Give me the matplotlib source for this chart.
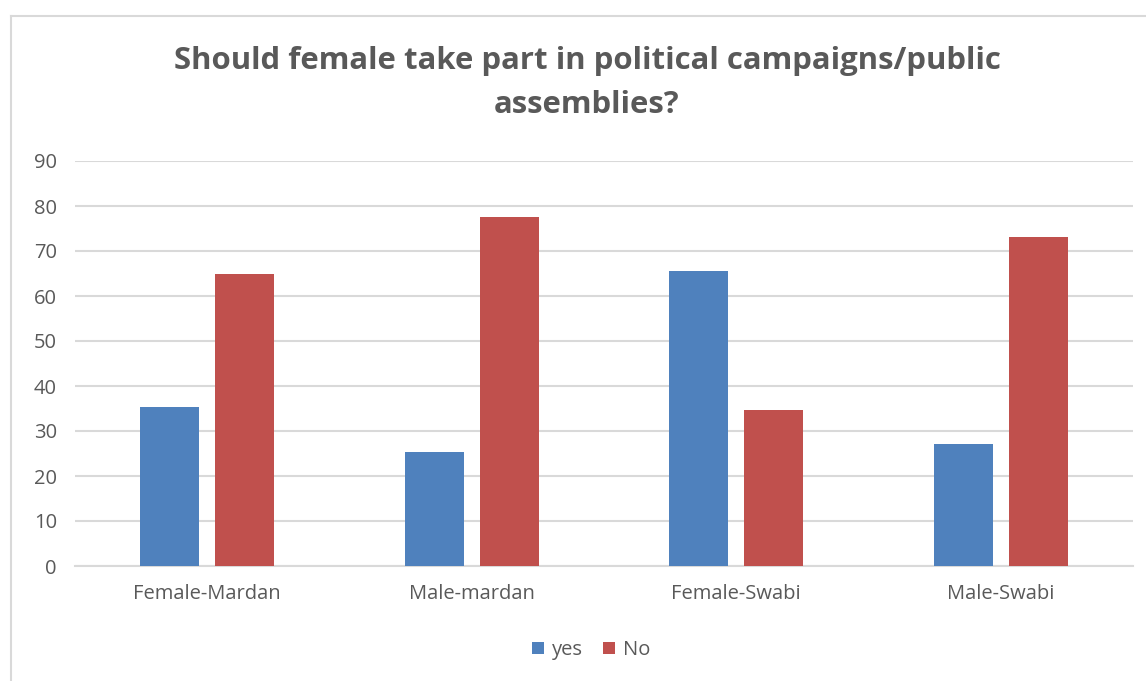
import matplotlib.pyplot as plt
import numpy as np
from matplotlib.lines import Line2D

# data
categories = ['Female-Mardan', 'Male-mardan', 'Female-Swabi', 'Male-Swabi']
yes_vals = [35.3, 25.3, 65.6, 27.1]
no_vals = [64.9, 77.6, 34.7, 73.1]

blue = '#4f81bd'
red = '#c0504d'
grey = '#595959'
grid = '#d9d9d9'

plt.rcParams['font.family'] = ['Open Sans', 'DejaVu Sans']

W, H = 1146, 681
fig = plt.figure(figsize=(W / 100, H / 100), dpi=100)
ax = fig.add_axes([75 / W, (H - 566) / H, (1133 - 75) / W, (566 - 161) / H])

x = np.arange(len(categories))
w = 0.223
ax.bar(x - 0.142, yes_vals, w, color=blue, label='yes', zorder=3)
ax.bar(x + 0.142, no_vals, w, color=red, label='No', zorder=3)

ax.set_xlim(-0.5, len(categories) - 0.5)
ax.set_ylim(0, 90)
ax.set_yticks(range(0, 91, 10))
ax.set_xticks(x)
ax.set_xticklabels(categories)
ax.yaxis.grid(True, color=grid, linewidth=1.5, zorder=0)
for s in ['top', 'right', 'left']:
    ax.spines[s].set_visible(False)
ax.spines['bottom'].set_color(grid)
ax.spines['bottom'].set_linewidth(1.5)
ax.tick_params(axis='both', length=0, labelsize=14.5, colors=grey)
ax.tick_params(axis='x', pad=13)
ax.tick_params(axis='y', pad=13)

fig.text(587 / W, 1 - 61 / H, 'Should female take part in political campaigns/public',
         ha='center', va='center', fontsize=22.4, fontweight='bold', color=grey)
fig.text(587 / W, 1 - 105 / H, 'assemblies?',
         ha='center', va='center', fontsize=22.4, fontweight='bold', color=grey)

leg = fig.legend(loc='center', bbox_to_anchor=(591 / W, 1 - 650 / H), ncol=2, frameon=False,
                 fontsize=14.5, handlelength=0.6, handleheight=0.6, handletextpad=0.4,
                 columnspacing=1.0)
for t in leg.get_texts():
    t.set_color(grey)

# chart border
fig.add_artist(Line2D([11 / W, 1.0], [1 - 16 / H, 1 - 16 / H], color=grid, linewidth=1.5))
fig.add_artist(Line2D([11 / W, 11 / W], [0, 1 - 16 / H], color=grid, linewidth=1.5))

fig.savefig('out.png', dpi=100)
